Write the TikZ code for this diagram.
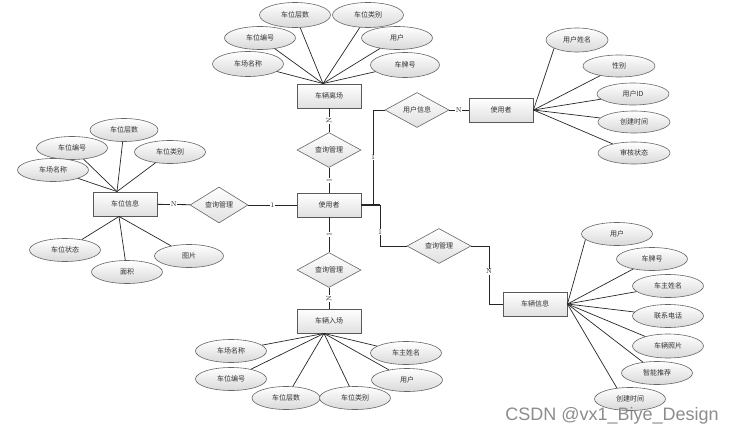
\documentclass[tikz,border=0pt]{standalone}
\usepackage{fontspec}
\newfontfamily\cjk{Noto Sans CJK SC}
\setsansfont{Liberation Sans}
\usetikzlibrary{shapes.geometric}
\begin{document}
\begin{tikzpicture}[x=1pt,y=-1pt,
 every node/.style={font=\cjk\fontsize{7}{8}\selectfont, text=black!80},
 ent/.style={rectangle, draw=black!65, line width=0.9pt, top color=white, bottom color=black!12, minimum width=64pt, minimum height=24pt, inner sep=0pt},
 attr/.style={ellipse, draw=black!60, line width=0.6pt, top color=white, bottom color=black!15, minimum width=71pt, minimum height=23pt, inner sep=0pt},
 rel/.style={diamond, draw=black!60, line width=0.6pt, top color=white, bottom color=black!12, minimum width=64pt, minimum height=35pt, inner sep=0pt},
 lnk/.style={draw=black!85, line width=0.8pt},
 alnk/.style={draw=black!85, line width=0.7pt},
 card/.style={font=\fontsize{7}{7}\selectfont, fill=white, inner sep=0.6pt, text=black!85}]
\useasboundingbox (0,0) rectangle (734,436);

% entities
\node[ent] (lc) at (329,96) {车辆离场};
\node[ent] (cw) at (125,204) {车位信息};
\node[ent] (u) at (329,205) {使用者};
\node[ent] (u2) at (501,110) {使用者};
\node[ent] (cl) at (535,304) {车辆信息};
\node[ent] (rc) at (329,321) {车辆入场};

% relations
\node[rel] (q1) at (329,150) {查询管理};
\node[rel, minimum width=58pt, minimum height=36pt] (q2) at (219,205) {查询管理};
\node[rel] (ui) at (417,110) {用户信息};
\node[rel] (q3) at (439,246) {查询管理};
\node[rel] (q4) at (329,270) {查询管理};

% relation links
\draw[lnk] (lc) -- node[card, rotate=90] {N} (q1);
\draw[lnk] (q1) -- node[card, rotate=90] {1} (u);
\draw[lnk] (cw) -- node[card] {N} (q2);
\draw[lnk] (q2) -- node[card] {1} (u);
\coordinate (e1) at (373,205);
\coordinate (e2) at (380,205);
\coordinate (e3) at (489,246);
\draw[lnk, line width=1.1pt] (u.east) -- (e2);
\draw[lnk] (e1) |- node[card, pos=0.25] {1} (ui.west);
\draw[lnk] (ui) -- node[card] {N} (u2);
\draw[lnk] (e2) |- node[card, pos=0.33] {1} (q3.west);
\draw[lnk] (q3.east) -- (e3) |- node[card, pos=0.22] {N} (cl.west);
\draw[lnk] (u) -- node[card, rotate=90] {1} (q4);
\draw[lnk] (q4) -- node[card, rotate=90] {N} (rc);

% top group (车辆离场)
\begin{scope}[every node/.append style={attr, minimum height=25pt}]
\node (t1) at (295,15) {车位层数};
\node (t2) at (368,15) {车位类别};
\node[minimum height=23pt] (t3) at (260,38) {车位编号};
\node[minimum height=23pt] (t4) at (397,38) {用户};
\node (t5) at (248,64) {车场名称};
\node[minimum width=69pt] (t6) at (405,65) {车牌号};
\end{scope}
\coordinate (lcT) at ([xshift=-6pt]lc.north);
\foreach \a in {t1,t2,t3,t4,t5,t6} \draw[alnk] (lcT) -- (\a);

% left group (车位信息)
\node[attr, minimum width=68pt] (l1) at (124,130) {车位层数};
\node[attr] (l2) at (72,148) {车位编号};
\node[attr] (l3) at (170,152) {车位类别};
\node[attr] (l4) at (53,170) {车场名称};
\node[attr] (l5) at (65,250) {车位状态};
\node[attr] (l6) at (127,272) {面积};
\node[attr, minimum width=69pt] (l7) at (189,256) {图片};
\coordinate (cwT) at ([xshift=-8pt]cw.north);
\coordinate (cwB) at ([xshift=-6pt]cw.south);
\foreach \a in {l1,l2,l3,l4} \draw[alnk] (cwT) -- (\a);
\foreach \a in {l5,l6,l7} \draw[alnk] (cwB) -- (\a);

% right group (使用者)
\node[attr, minimum width=62pt, minimum height=24pt] (r1) at (577,40) {用户姓名};
\node[attr, minimum width=72pt, minimum height=22pt] (r2) at (619,66) {性别};
\node[attr, minimum width=72pt, minimum height=22pt] (r3) at (633,94) {用户ID};
\node[attr, minimum width=72pt, minimum height=22pt] (r4) at (634,122) {创建时间};
\node[attr, minimum width=72pt, minimum height=22pt] (r5) at (634,153) {审核状态};
\draw[alnk] (u2.east) -- (r1.200);
\foreach \a in {r2,r3,r4,r5} \draw[alnk] (u2.east) -- (\a);

% vehicle info group (车辆信息)
\node[attr] (v1) at (617,234) {用户};
\node[attr] (v2) at (652,259) {车牌号};
\node[attr] (v3) at (668,286) {车主姓名};
\node[attr] (v4) at (668,316) {联系电话};
\node[attr, minimum height=24pt] (v5) at (668,346) {车辆照片};
\node[attr] (v6) at (657,373) {智能推荐};
\node[attr] (v7) at (630,399) {创建时间};
\draw[alnk] (cl.east) -- (v1.190);
\foreach \a in {v2,v3,v4,v5,v6} \draw[alnk] (cl.east) -- (\a);
\draw[alnk] (cl.east) -- (v7.140);

% bottom group (车辆入场)
\node[attr] (b1) at (231,351) {车场名称};
\node[attr] (b2) at (231,379) {车位编号};
\node[attr, minimum width=68pt] (b3) at (286,398) {车位层数};
\node[attr] (b4) at (355,398) {车位类别};
\node[attr] (b5) at (406,353) {车主姓名};
\node[attr] (b6) at (407,380) {用户};
\coordinate (rcB) at ([xshift=-5pt]rc.south);
\foreach \a in {b1,b2,b3,b4,b5,b6} \draw[alnk] (rcB) -- (\a);

% watermark
\node[font=\sffamily\fontsize{18}{18}\selectfont, text=black!45, anchor=east, inner sep=0pt] (wm) at (719,416) {CSDN @vx1\_Biye\_Design};
\end{tikzpicture}
\end{document}
